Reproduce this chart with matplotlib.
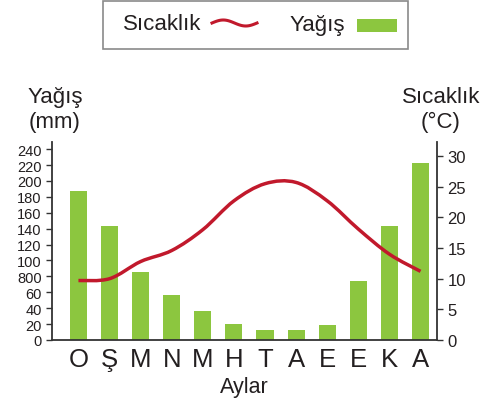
import numpy as np
import matplotlib.pyplot as plt
from matplotlib.path import Path
from matplotlib.patches import PathPatch, Rectangle

months = ['O', 'Ş', 'M', 'N', 'M', 'H', 'T', 'A', 'E', 'E', 'K', 'A']
yagis = [188, 143, 85, 57, 36, 20, 12, 12, 19, 74, 143, 222]
sicaklik = [9.7, 10.0, 12.8, 14.6, 18.0, 22.7, 25.5, 25.7, 22.7, 18.1, 14.0, 11.2]
left_ticks = [0, 20, 40, 60, 80, 100, 120, 140, 160, 180, 200, 220, 240]
left_labels = ['0', '20', '40', '60', '800', '100', '120', '140', '160', '180', '200', '220', '240']
right_ticks = [0, 5, 10, 15, 20, 25, 30]

W, H = 493, 406
txt = '#231f20'
plt.rcParams['font.family'] = ['Liberation Sans', 'DejaVu Sans']

fig = plt.figure(figsize=(W / 100, H / 100), dpi=100)
ax = fig.add_axes([52 / W, (H - 341) / H, (437 - 52) / W, (341 - 143) / H])
ax2 = ax.twinx()

x = np.arange(len(months))
ax.bar(x, yagis, width=0.55, color='#8cc63f', zorder=2)
ax.set_xlim(-0.85, 11.53)
ax.set_ylim(0, 249)
ax.set_yticks(left_ticks)
ax.set_yticklabels(left_labels)
ax.set_xticks(x)
ax.set_xticklabels(months, fontsize=18.5, color=txt)
ax.tick_params(axis='x', length=0, pad=5)
ax.tick_params(axis='y', length=4.5, width=1, color='#333333', labelsize=10.5,
               labelcolor=txt, pad=3)
ax.set_xlabel('Aylar', fontsize=15.5, color=txt, labelpad=4)

# smooth temperature curve through the monthly values (Catmull-Rom -> bezier)
pts = np.column_stack([x, sicaklik]).astype(float)
ext = np.vstack([pts[0], pts, pts[-1]])
verts = [tuple(pts[0])]
codes = [Path.MOVETO]
for i in range(len(pts) - 1):
    p0, p1, p2, p3 = ext[i], ext[i + 1], ext[i + 2], ext[i + 3]
    c1 = p1 + (p2 - p0) / 6
    c2 = p2 - (p3 - p1) / 6
    verts += [tuple(c1), tuple(c2), tuple(p2)]
    codes += [Path.CURVE4] * 3
ax2.add_patch(PathPatch(Path(verts, codes), fill=False, edgecolor='#c1192c',
                        lw=2.5, capstyle='butt', zorder=3))
ax2.set_ylim(0, 32.3)
ax2.set_yticks(right_ticks)
ax2.tick_params(axis='y', length=4.5, width=1, color='#333333', labelsize=12,
                labelcolor=txt, pad=3)

for a in (ax, ax2):
    a.spines['top'].set_visible(False)
    for s in ('left', 'right', 'bottom'):
        a.spines[s].set_linewidth(1.3)
        a.spines[s].set_color('#333333')
ax.spines['right'].set_visible(False)
ax2.spines['left'].set_visible(False)
ax2.spines['bottom'].set_visible(False)

# axis titles
fig.text(55 / W, 1 - 110 / H, 'Yağış\n(mm)', ha='center', va='center',
         fontsize=16, color=txt, linespacing=1.25)
fig.text(441 / W, 1 - 110 / H, 'Sıcaklık\n(°C)', ha='center', va='center',
         fontsize=16, color=txt, linespacing=1.25)

# legend box
fig.add_artist(Rectangle((103 / W, 1 - 50 / H), 305 / W, 48 / H, transform=fig.transFigure,
                         fill=False, edgecolor='#8a8a8a', lw=1.2))
fig.text(123 / W, 1 - 25 / H, 'Sıcaklık', ha='left', va='center', fontsize=16, color=txt)
sx = np.linspace(212, 257, 40)
sy = 24 - 3 * np.sin((sx - 212) / 45 * 2 * np.pi)
fig.add_artist(plt.Line2D(sx / W, 1 - sy / H, transform=fig.transFigure,
                          color='#c1192c', lw=2.2))
fig.text(290 / W, 1 - 25 / H, 'Yağış', ha='left', va='center', fontsize=16, color=txt)
fig.add_artist(Rectangle((357 / W, 1 - 33 / H), 40 / W, 13 / H, transform=fig.transFigure,
                         color='#8cc63f', lw=0))

fig.savefig('out.png', dpi=100)
